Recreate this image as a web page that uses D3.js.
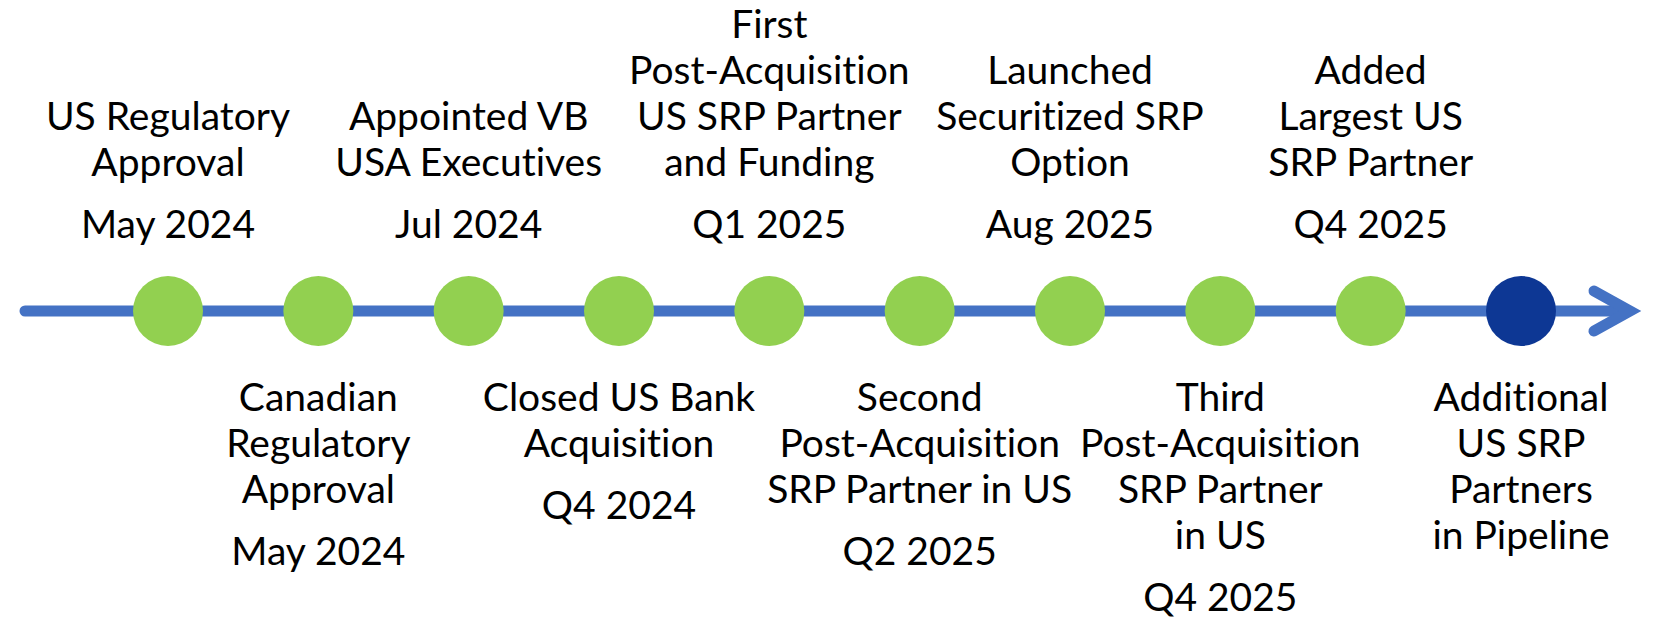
<!DOCTYPE html>
<html>
<head>
<meta charset="utf-8">
<script src="https://cdn.jsdelivr.net/npm/d3@7"></script>
<style>
  body { margin: 0; background: #fff; }
  text { font-family: Lato, "Liberation Sans", sans-serif; fill: #000; font-variant-ligatures: none; font-feature-settings: "liga" 0, "clig" 0; }
</style>
</head>
<body>
<div id="chart-area"></div>
<script>
const WIDTH = 1653
const HEIGHT = 619

// DATA
const milestones = [
  'US Regulatory|Approval',
  'Canadian|Regulatory|Approval',
  'Appointed VB|USA Executives',
  'Closed US Bank|Acquisition',
  'First|Post-Acquisition|US SRP Partner|and Funding',
  'Second|Post-Acquisition|SRP Partner in US',
  'Launched|Securitized SRP|Option',
  'Third|Post-Acquisition|SRP Partner|in US',
  'Added|Largest US|SRP Partner',
  'Additional|US SRP|Partners|in Pipeline'
]
const dates = ['May 2024', 'May 2024', 'Jul 2024', 'Q4 2024', 'Q1 2025',
  'Q2 2025', 'Aug 2025', 'Q4 2025', 'Q4 2025', '']
const status = ['done', 'done', 'done', 'done', 'done',
  'done', 'done', 'done', 'done', 'future']
const sides = ['top', 'bottom', 'top', 'bottom', 'top',
  'bottom', 'top', 'bottom', 'top', 'bottom']

const data = milestones.map((m, i) => ({
  lines: m.split('|'),
  date: dates[i],
  status: status[i],
  side: sides[i],
  i: i
}))

const LINE_Y = 311
const LINE_H = 46
const DATE_GAP = 62

const svg = d3.select('#chart-area').append('svg')
  .attr('width', WIDTH)
  .attr('height', HEIGHT)

// SCALES
const x = d3.scalePoint()
  .domain(data.map(d => d.i))
  .range([168, 1521])

const color = d3.scaleOrdinal()
  .domain(['done', 'future'])
  .range(['#92D050', '#0D3794'])

// TIMELINE + ARROW
const tipX = 1630
svg.append('line')
  .attr('x1', 25)
  .attr('x2', tipX - 4)
  .attr('y1', LINE_Y)
  .attr('y2', LINE_Y)
  .attr('stroke', '#4472C4')
  .attr('stroke-width', 11)
  .attr('stroke-linecap', 'round')

svg.append('path')
  .attr('d', `M${tipX - 36},${LINE_Y - 20} L${tipX},${LINE_Y} L${tipX - 36},${LINE_Y + 20}`)
  .attr('fill', 'none')
  .attr('stroke', '#4472C4')
  .attr('stroke-width', 11)
  .attr('stroke-linecap', 'round')
  .attr('stroke-linejoin', 'miter')

// CIRCLES
svg.selectAll('circle')
  .data(data)
  .enter().append('circle')
  .attr('cx', d => x(d.i))
  .attr('cy', LINE_Y)
  .attr('r', 35)
  .attr('fill', d => color(d.status))

// LABELS
const labels = svg.selectAll('g.label')
  .data(data)
  .enter().append('g')
  .attr('class', 'label')
  .attr('transform', d => `translate(${x(d.i)}, 0)`)

labels.each(function (d) {
  const g = d3.select(this)
  const n = d.lines.length
  let ys, dateY
  if (d.side === 'top') {
    dateY = 238
    const last = dateY - DATE_GAP
    ys = d.lines.map((l, k) => last - (n - 1 - k) * LINE_H)
  } else {
    ys = d.lines.map((l, k) => 411 + k * LINE_H)
    dateY = ys[n - 1] + DATE_GAP
  }
  g.selectAll('text.desc')
    .data(d.lines)
    .enter().append('text')
    .attr('class', 'desc')
    .attr('y', (l, k) => ys[k])
    .attr('text-anchor', 'middle')
    .attr('font-size', '39px')
    .text(l => l)
  if (d.date) {
    g.append('text')
      .attr('y', dateY)
      .attr('text-anchor', 'middle')
      .attr('font-size', '39px')
      .text(d.date)
  }
})
</script>
</body>
</html>
